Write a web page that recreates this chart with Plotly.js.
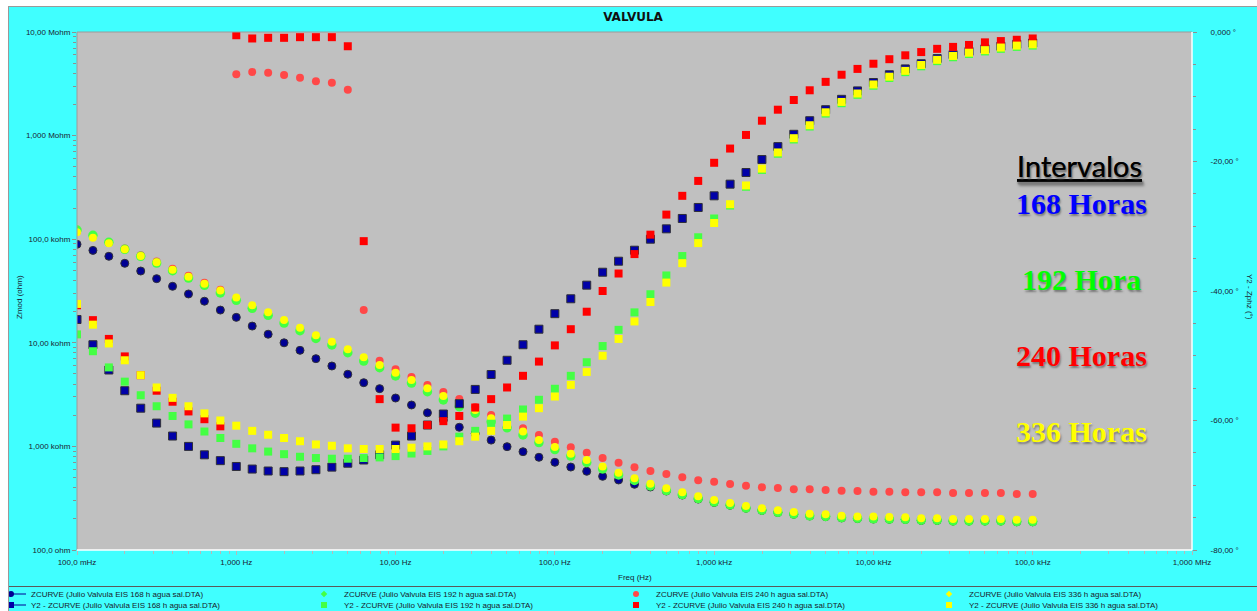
<!DOCTYPE html>
<html><head><meta charset="utf-8">
<script src="https://cdn.plot.ly/plotly-3.0.1.min.js"></script>
<style>
html,body{margin:0;padding:0;background:#ffffff;width:1257px;height:611px;overflow:hidden}
#frame{position:absolute;left:8px;top:6px;border-left:1px solid #9a9a9a;border-top:1px solid #9a9a9a;}
#chart{width:1248px;height:604px;}
</style></head><body>
<div id="frame"><div id="chart"></div></div>
<script>
// ---------------- data ----------------
const freq = [0.1,0.1259,0.1585,0.1995,0.2512,0.3162,0.3981,0.5012,0.631,0.7943,
  1,1.259,1.585,1.995,2.512,3.162,3.981,5.012,6.31,7.943,
  10,12.59,15.85,19.95,25.12,31.62,39.81,50.12,63.1,79.43,
  100,125.9,158.5,199.5,251.2,316.2,398.1,501.2,631,794.3,
  1000,1259,1585,1995,2512,3162,3981,5012,6310,7943,
  10000,12590,15850,19950,25120,31620,39810,50120,63100,79430,100000];

const zmod168 = [89300,78000,68400,58500,49300,41600,35100,29600,25200,20700,
  17600,14500,12100,10000,8460,7030,5970,4970,4120,3610,
  2930,2510,2110,1800,1530,1330,1150,994,889,785,
  702,632,575,514,474,431,406,371,339,310,
  288,270,253,241,230,221,213,210,204,201,
  199,198,197,193,193,190,190,190,190,187,187];
const zmod192 = [122700,109100,93400,79800,68400,58900,49700,42200,35900,30300,
  25700,21500,18400,15500,13100,11000,9520,8020,6670,5750,
  4790,4090,3370,2810,2420,2090,1730,1510,1290,1090,
  933,807,700,605,530,469,415,375,343,314,
  290,272,254,242,231,222,214,211,205,202,
  200,199,198,194,194,191,191,191,191,188,188];
const zmod240 = [118500,105500,93000,81500,70000,61000,51800,44500,38000,32500,
  3910000,4110000,4050000,3840000,3620000,3340000,3240000,2770000,20700,6720,
  5550,4680,3920,3350,2870,2400,2010,1720,1500,1290,
  1110,980,869,773,696,629,578,542,503,471,
  456,434,418,403,397,385,385,379,373,371,
  365,365,360,360,360,355,355,355,355,347,347];
const zmod336 = [116600,103400,91300,79800,68800,59800,50800,43500,37200,31900,
  27300,23000,19700,16600,14000,11800,10250,8650,7240,6110,
  5150,4380,3640,3060,2620,2250,1870,1610,1390,1150,
  988,851,740,638,558,492,437,394,361,330,
  304,284,266,253,242,233,224,221,214,211,
  210,208,207,202,202,199,199,199,199,196,196];

const zphz168 = [-44.4,-48.3,-52.2,-55.4,-58.1,-60.4,-62.4,-64.0,-65.3,-66.2,
  -67.1,-67.5,-67.8,-67.9,-67.8,-67.6,-67.2,-66.6,-66.1,-65.3,
  -63.8,-62.4,-60.7,-59.0,-57.4,-55.2,-52.9,-50.7,-48.3,-45.9,
  -43.5,-41.2,-39.1,-37.1,-35.4,-33.7,-32.0,-30.4,-28.8,-27.1,
  -25.3,-23.5,-21.7,-19.7,-17.7,-15.8,-13.7,-12.0,-10.4,-9.1,
  -7.8,-6.6,-5.7,-4.9,-4.1,-3.5,-3.0,-2.6,-2.2,-1.9,-1.7];
const zphz192 = [-46.7,-49.3,-51.8,-54.0,-56.1,-57.8,-59.3,-60.6,-61.7,-62.7,
  -63.6,-64.3,-64.8,-65.2,-65.6,-65.8,-65.9,-65.9,-65.8,-65.7,
  -65.5,-65.1,-64.7,-64.0,-62.5,-61.6,-60.5,-59.7,-58.3,-56.8,
  -55.1,-53.1,-51.0,-48.5,-46.0,-43.3,-40.5,-37.6,-34.6,-31.7,
  -28.8,-26.8,-23.9,-21.3,-18.8,-16.6,-14.6,-12.6,-11.0,-9.7,
  -8.3,-7.1,-6.2,-5.3,-4.5,-3.9,-3.4,-3.0,-2.6,-2.3,-2.1];
const zphz240 = [-42.2,-44.5,-47.4,-50.1,-53.0,-55.4,-57.1,-58.6,-59.8,-60.9,
  -0.5,-1.0,-0.9,-0.9,-0.8,-0.8,-0.8,-2.2,-32.3,-56.7,
  -61.1,-61.2,-60.7,-60.1,-59.3,-58.0,-56.7,-54.9,-53.1,-50.9,
  -48.4,-45.9,-43.2,-40.0,-37.3,-34.3,-31.3,-28.2,-25.3,-23.0,
  -20.2,-18.0,-15.9,-13.7,-12.0,-10.5,-9.0,-7.7,-6.6,-5.7,
  -4.9,-4.2,-3.6,-3.1,-2.6,-2.3,-2.0,-1.6,-1.4,-1.2,-1.0];
const zphz336 = [-42.0,-45.2,-48.1,-50.7,-53.0,-54.9,-56.5,-57.8,-58.9,-60.0,
  -60.8,-61.6,-62.2,-62.7,-63.2,-63.7,-63.9,-64.3,-64.4,-64.4,
  -64.4,-64.2,-64.0,-63.7,-63.2,-62.5,-61.6,-60.7,-59.4,-58.1,
  -56.3,-54.5,-52.5,-50.0,-47.4,-44.7,-41.7,-38.7,-35.7,-32.6,
  -29.5,-26.6,-23.7,-21.1,-18.6,-16.4,-14.4,-12.4,-10.8,-9.5,
  -8.1,-6.9,-6.0,-5.1,-4.3,-3.7,-3.2,-2.8,-2.4,-2.1,-1.9];

const xTickVals = [0.1,1,10,100,1000,10000,100000,1000000];
const xTickText = ['100,0 mHz','1,000 Hz','10,00 Hz','100,0 Hz','1,000 kHz','10,00 kHz','100,0 kHz','1,000 MHz'];
const yTickVals = [100,1000,10000,100000,1000000,10000000];
const yTickText = ['100,0 ohm','1,000 kohm','10,00 kohm','100,0 kohm','1,000 Mohm','10,00 Mohm'];
const y2TickVals = [0,-20,-40,-60,-80];
const y2TickText = ['0,000 °','-20,00 °','-40,00 °','-60,00 °','-80,00 °'];

const names = ['168','192','240','336'];
const intervalLabels = ['168 Horas','192 Hora','240 Horas','336 Horas'];

// ---------------- geometry helpers (absolute page pixels -> paper) ----------------
const L=77, T=32, R=1192, B=550, OX=9, OY=7, W=1248, H=604;
const px = x => (x-L)/(R-L);
const py = y => (B-y)/(B-T);

// minor ticks
const xMinor=[]; for(let d=-1; d<6; d++){ for(let m=2;m<10;m++){ xMinor.push(m*Math.pow(10,d)); } }
const yMinor=[]; for(let d=2; d<7; d++){ for(let m=2;m<10;m++){ yMinor.push(m*Math.pow(10,d)); } }

const cols = {
  '168': {dot:'#000094', sq:'#0000A8', edge:'#303038', leg:'circle'},
  '192': {dot:'#44FF44', sq:'#44FF44', leg:'diamond'},
  '240': {dot:'#FF4848', sq:'#FF0000', leg:'circle'},
  '336': {dot:'#FFFF00', sq:'#FFFF00', leg:'diamond'}
};
const zmods = {'168':zmod168,'192':zmod192,'240':zmod240,'336':zmod336};
const zphzs = {'168':zphz168,'192':zphz192,'240':zphz240,'336':zphz336};
const legendIdx = {'168':0,'192':1,'240':2,'336':3};

function legName(k){ return k===0 ? 'legend' : 'legend'+(k+1); }

const traces = [];
const drawOrder = ['168','240','192','336'];
drawOrder.forEach(n=>{
  const c = cols[n];
  const blue = (n==='168');
  traces.push({
    type:'scatter', mode:'markers', x:freq, y:zmods[n], yaxis:'y',
    name:'ZCURVE (Julio Valvula EIS '+n+' h agua sal.DTA)', showlegend:false,
    marker:{symbol:'circle', size: n==='192'?9.5:8, color:c.dot,
      line:{width: blue?1:0, color: blue?c.edge:c.dot}},
    hoverinfo:'skip'
  });
});
drawOrder.forEach(n=>{
  const c = cols[n];
  const blue = (n==='168');
  traces.push({
    type:'scatter', mode:'markers', x:freq, y:zphzs[n], yaxis:'y2',
    name:'Y2 - ZCURVE (Julio Valvula EIS '+n+' h agua sal.DTA)', showlegend:false,
    marker:{symbol:'square', size:8, color:c.sq,
      line:{width: blue?1:0, color: blue?c.edge:c.sq}},
    hoverinfo:'skip'
  });
});
// legend swatches (small, as in the instrument software's footer)
names.forEach(n=>{
  const c = cols[n];
  const blue = (n==='168');
  traces.push({type:'scatter', mode: blue?'lines+markers':'markers', x:[null], y:[null], yaxis:'y',
    name:'ZCURVE (Julio Valvula EIS '+n+' h agua sal.DTA)', legend:legName(legendIdx[n]),
    line:{color:c.dot, width:1}, marker:{symbol:c.leg, size: (c.leg==='circle')?6:5, color:c.dot}});
});
names.forEach(n=>{
  const c = cols[n];
  const blue = (n==='168');
  traces.push({type:'scatter', mode: blue?'lines+markers':'markers', x:[null], y:[null], yaxis:'y2',
    name:'Y2 - ZCURVE (Julio Valvula EIS '+n+' h agua sal.DTA)', legend:legName(4+legendIdx[n]),
    line:{color:c.dot, width:1}, marker:{symbol:'square', size:6, color:c.sq}});
});

const serif = 'Liberation Serif, Times New Roman, serif';
const shadow = '1px 2px 2px #7a7a7a';
function ann(text, x, y, font, extra){
  return Object.assign({text:text, xref:'paper', yref:'paper', x:px(x), y:py(y),
    xanchor:'center', yanchor:'middle', showarrow:false, font:font}, extra||{});
}
const layout = {
  width:W, height:H,
  margin:{l:L-OX, r:W-(R-OX), t:T-OY, b:H-(B-OY), pad:0, autoexpand:false},
  paper_bgcolor:'#40FFFF', plot_bgcolor:'#C0C0C0',
  font:{family:'Liberation Sans, Arial, sans-serif', size:8, color:'#1a2230'},
  title:{text:'<b>VALVULA</b>', font:{family:'DejaVu Sans, sans-serif', size:12, color:'#101010'},
    x:0.5, xref:'container', xanchor:'center', y:1-(17-OY)/H, yref:'container', yanchor:'middle', automargin:false},
  xaxis:{type:'log', range:[-1,6], tickmode:'array', tickvals:xTickVals, ticktext:xTickText, automargin:false,
    ticks:'outside', ticklen:4, tickcolor:'#b8b8b8', showgrid:false, zeroline:false, showline:false,
    minor:{tickvals:xMinor, ticks:'outside', ticklen:3, tickcolor:'#b8b8b8', showgrid:false}},
  yaxis:{type:'log', range:[2,7], tickmode:'array', tickvals:yTickVals, ticktext:yTickText, automargin:false,
    ticks:'outside', ticklen:4, tickcolor:'#909090', showgrid:false, zeroline:false, showline:false,
    minor:{tickvals:yMinor, ticks:'outside', ticklen:3, tickcolor:'#909090', showgrid:false}},
  yaxis2:{overlaying:'y', side:'right', range:[-80,0], tickmode:'array', tickvals:y2TickVals, ticktext:y2TickText,
    automargin:false, ticks:'outside', ticklen:4, tickcolor:'#909090', showgrid:false, zeroline:false, showline:false,
    ticklabelstandoff:12,
    minor:{dtick:5, ticks:'outside', ticklen:3, tickcolor:'#909090', showgrid:false}},
  shapes:[
    {type:'line', xref:'paper', yref:'paper', x0:0, x1:1, y0:1, y1:1, line:{color:'#9a9a9a', width:1}},
    {type:'line', xref:'paper', yref:'paper', x0:0, x1:0, y0:0, y1:1, line:{color:'#9a9a9a', width:1}},
    {type:'line', xref:'paper', yref:'paper', x0:1, x1:1, y0:0, y1:1, line:{color:'#ffffff', width:1.5}},
    {type:'line', xref:'paper', yref:'paper', x0:0, x1:1, y0:0, y1:0, line:{color:'#ffffff', width:1.5}},
    {type:'line', xref:'paper', yref:'paper', x0:px(9), x1:px(1257), y0:py(586.5), y1:py(586.5), line:{color:'#5a5a5a', width:1}}
  ],
  annotations:[
    ann('Zmod (ohm)', 19, 297, {size:8}, {textangle:-90}),
    ann('Y2 - Zphz (°)', 1250, 297, {size:8}, {textangle:90}),
    ann('Freq (Hz)', 635, 577, {size:8}),
    ann('<u>Intervalos</u>', 1079, 165, {family:'Lato, Noto Sans, sans-serif', size:29, color:'#000000', shadow:shadow}),
    ann('<b>'+intervalLabels[0]+'</b>', 1081, 203, {family:serif, size:30, color:'#0000FF', shadow:shadow}),
    ann('<b>'+intervalLabels[1]+'</b>', 1081, 279, {family:serif, size:30, color:'#00FF00', shadow:shadow}),
    ann('<b>'+intervalLabels[2]+'</b>', 1081, 355, {family:serif, size:30, color:'#FF0000', shadow:shadow}),
    ann('<b>'+intervalLabels[3]+'</b>', 1081, 431, {family:serif, size:30, color:'#FFFF00', shadow:shadow})
  ]
};

const colText = [28, 341, 653, 966];
const rowY = [594, 605];
for(let r=0;r<2;r++){
  for(let c=0;c<4;c++){
    const k = r*4+c;
    layout[legName(k)] = {
      x:px(colText[c]-37), xanchor:'left', y:py(rowY[r]), yanchor:'middle',
      bgcolor:'rgba(0,0,0,0)', borderwidth:0, font:{size:8, color:'#1a1a2a'},
      orientation:'v', itemclick:false, itemdoubleclick:false
    };
  }
}

Plotly.newPlot('chart', traces, layout, {displayModeBar:false, staticPlot:true});
</script>
</body></html>
